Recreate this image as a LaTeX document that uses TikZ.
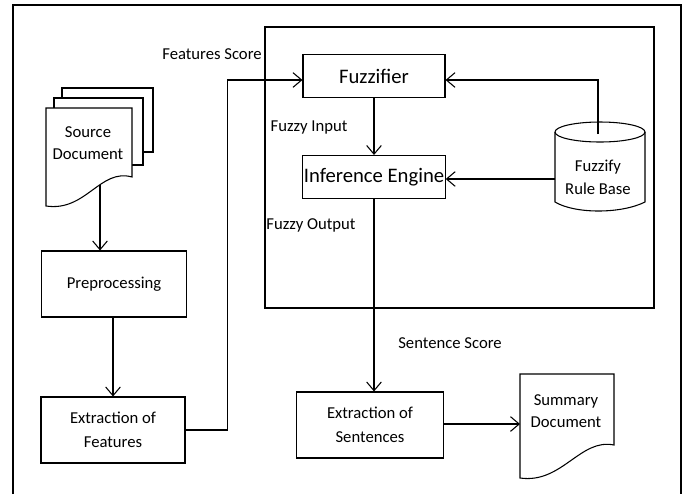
\documentclass[tikz,border=0pt]{standalone}
\usepackage{fontspec}
\setmainfont{Carlito}
\usetikzlibrary{arrows.meta}

\begin{document}
\begin{tikzpicture}[x=0.75pt,y=0.75pt,yscale=-1,xscale=1,
  box/.style={draw,line width=0.8pt,align=center,inner sep=0.75pt,font=\fontsize{12.5}{18}\selectfont},
  bigtext/.style={font=\fontsize{15.5}{18}\selectfont},
  doctext/.style={align=center,inner sep=0.75pt,font=\fontsize{12.5}{17}\selectfont},
  lbl/.style={inner sep=0.75pt,font=\fontsize{12.5}{14}\selectfont},
  arr/.style={line width=0.8pt,-{Straight Barb[length=6.5pt,width=11pt,line width=0.8pt]}},
  line/.style={line width=0.8pt},
  page/.style={draw,fill=white,line width=0.8pt}]
\useasboundingbox (0,0) rectangle (688,494);

%Outer frame, open at the bottom
\draw [line width=1.8pt] (13,494) -- (13,5) -- (681,5) -- (681,494) ;
%Fuzzy system frame
\draw [line] (265,27) rectangle (654,308) ;

%Source document pages
\draw [page] (62,88) rectangle (153,152) ;
\draw [page] (54,98) rectangle (143,165) ;
\draw [page] (46,108) -- (132,108) -- (132,177) .. controls (100,168) and (86,212) .. (46,206) -- cycle ;
\node (src) at (88,143) [doctext] {Source\\Document};
\coordinate (srcfoot) at (100,185);

%Summary document
\draw [page] (520,374) -- (614,374) -- (614,445) .. controls (580,438) and (562,484) .. (520,478) -- cycle ;
\node (summ) at (566,411) [doctext] {Summary\\Document};
\coordinate (summin) at (520,424);

%Rule base cylinder
\draw [page] (555,132) -- (555,202) .. controls (575,214) and (621,214) .. (645,202) -- (645,132) ;
\draw [line] (600,132) ellipse [x radius=45,y radius=10] ;
\node (rule) at (598,177) [doctext] {Fuzzify\\Rule Base};
\coordinate (ruletop) at (598,134);
\coordinate (ruleleft) at (555,179);

%Blocks (sizes in pt: 0.75pt per unit)
\node (prep) at (114,284) [box,minimum width=108.75pt,minimum height=49.5pt] {Preprocessing};
\node (extf) at (113,430) [box,minimum width=108pt,minimum height=49.5pt] {Extraction of\\Features};
\node (fuzz) at (374,76) [box,bigtext,minimum width=106.5pt,minimum height=32.25pt] {Fuzzifier};
\node (infer) at (374,177) [box,bigtext,minimum width=106.5pt,minimum height=32.25pt] {Inference Engine};
\node (exts) at (370,425) [box,minimum width=110.25pt,minimum height=49.5pt] {Extraction of\\Sentences};

%Labels
\node (fscore) at (212,54) [lbl] {Features Score};
\node (fin) at (309,127) [lbl] {Fuzzy Input};
\node (fout) at (311,225) [lbl] {Fuzzy Output};
\node (sscore) at (450,343) [lbl] {Sentence Score};

%Connectors
\draw [arr] (srcfoot) -- (srcfoot |- prep.north) ;
\draw [arr] (prep.south -| extf.north) -- (extf.north) ;
\draw [arr] (extf.east) -- ++(42,0) |- ([yshift=3pt]fuzz.west) ;
\draw [arr] (fuzz.south) -- (infer.north) ;
\draw [arr] (ruletop) |- ([yshift=3pt]fuzz.east) ;
\draw [arr] (ruleleft) -- (ruleleft -| infer.east) ;
\draw [arr] (infer.south) -- (infer.south |- exts.north) ;
\draw [arr] (exts.east |- summin) -- (summin) ;

\end{tikzpicture}
\end{document}
